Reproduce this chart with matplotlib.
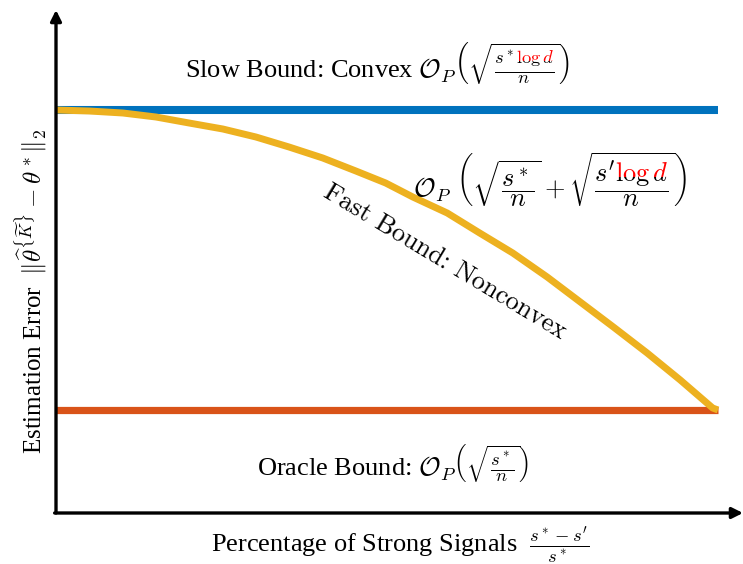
import matplotlib
matplotlib.use("Agg")
import matplotlib.pyplot as plt
from matplotlib.patches import Rectangle
from matplotlib.transforms import Bbox, IdentityTransform

plt.rcParams['mathtext.fontset'] = 'cm'
plt.rcParams['font.family'] = ['Liberation Serif', 'DejaVu Serif']

# bounds (x = share of strong signals, y = error)
bound_x = [0.0, 1.0]
slow_bound = [4.0, 4.0]
oracle_bound = [1.0, 1.0]
fast_x = [0.000, 0.050, 0.101, 0.151, 0.201, 0.252, 0.302, 0.352, 0.403,
          0.453, 0.498, 0.539, 0.591, 0.640, 0.690, 0.742, 0.792, 0.842,
          0.893, 0.943, 0.992, 1.000]
fast_y = [4.00, 3.99, 3.97, 3.93, 3.87, 3.81, 3.73, 3.63, 3.52,
          3.39, 3.27, 3.13, 2.97, 2.77, 2.57, 2.33, 2.08, 1.83,
          1.57, 1.30, 1.02, 1.00]

blue = '#0072BD'
orange = '#D95319'
yellow = '#EDB120'

fig = plt.figure(figsize=(7.43, 5.64), dpi=100)
ax = fig.add_axes([56/743, 51/564, 687/743, 503/564])

ax.plot(bound_x, slow_bound, color=blue, lw=5.8, solid_capstyle='butt')
ax.plot(bound_x, oracle_bound, color=orange, lw=5.2, solid_capstyle='butt')
ax.plot(fast_x, fast_y, color=yellow, lw=5.0, solid_capstyle='butt', solid_joinstyle='round')

ax.set_xlim(0, 1.0378)
ax.set_ylim(-0.03, 5.0)
ax.set_xticks([])
ax.set_yticks([])
for s in ax.spines.values():
    s.set_visible(False)

# axes with arrow heads
arr = dict(arrowstyle='-|>', lw=2.4, color='k', mutation_scale=16, shrinkA=0, shrinkB=0)
ax.annotate('', xy=(0, 1.0), xytext=(0, 0), xycoords='axes fraction', arrowprops=arr, annotation_clip=False)
ax.annotate('', xy=(1.0, 0), xytext=(-0.002, 0), xycoords='axes fraction', arrowprops=arr, annotation_clip=False)

slow_txt = r"Slow Bound: Convex $\mathcal{O}_P\left(\sqrt{\frac{s^*\log d}{n}}\right)$"
fast_txt = r"$\mathcal{O}_P\ \left(\sqrt{\dfrac{s^*}{n}}+\sqrt{\dfrac{s'\log d}{n}}\right)$"

t_slow = ax.text(0.486, 4.47, slow_txt, fontsize=19, ha='center', va='center', zorder=3)
t_slow_r = ax.text(0.486, 4.47, slow_txt, fontsize=19, ha='center', va='center', color='red', zorder=5)
t_fast = ax.text(0.746, 3.30, fast_txt, fontsize=19, ha='center', va='center', zorder=3)
t_fast_r = ax.text(0.746, 3.30, fast_txt, fontsize=19, ha='center', va='center', color='red', zorder=5)

ax.text(0.588, 2.48, "Fast Bound: Nonconvex", fontsize=19, family='cmr10',
        rotation=-31, ha='center', va='center', rotation_mode='anchor')
ax.text(0.509, 0.47, r"Oracle Bound: $\mathcal{O}_P\left(\sqrt{\frac{s^*}{n}}\right)$",
        fontsize=19, ha='center', va='center')

fig.text(400/743, 1 - 545/564, r"Percentage of Strong Signals  $\frac{s^*-s'}{s^*}$",
         fontsize=19, ha='center', va='center')
fig.text(32/743, 1 - 292/564,
         r"Estimation Error  $\Vert\widehat{\theta}^{\{\widetilde{K}\}}-\theta^*\Vert_2$",
         fontsize=18, ha='center', va='center', rotation=90)

# red copies only show the "log d" part, over a white patch
fig.canvas.draw()
for t, (fx0, fy0, fx1, fy1) in [(t_slow_r, (0.86, 0.55, 0.96, 0.85)),
                                (t_fast_r, (0.745, 0.55, 0.94, 0.85))]:
    bb = t.get_window_extent()
    clip = Bbox.from_extents(bb.x0 + fx0 * bb.width, bb.y0 + fy0 * bb.height,
                             bb.x0 + fx1 * bb.width, bb.y0 + fy1 * bb.height)
    t.set_clip_box(clip)
    t.set_clip_on(True)
    ax.add_artist(Rectangle((clip.x0, clip.y0), clip.width, clip.height,
                            transform=IdentityTransform(), facecolor='white',
                            edgecolor='none', zorder=4))

fig.savefig('out.png', dpi=100)
